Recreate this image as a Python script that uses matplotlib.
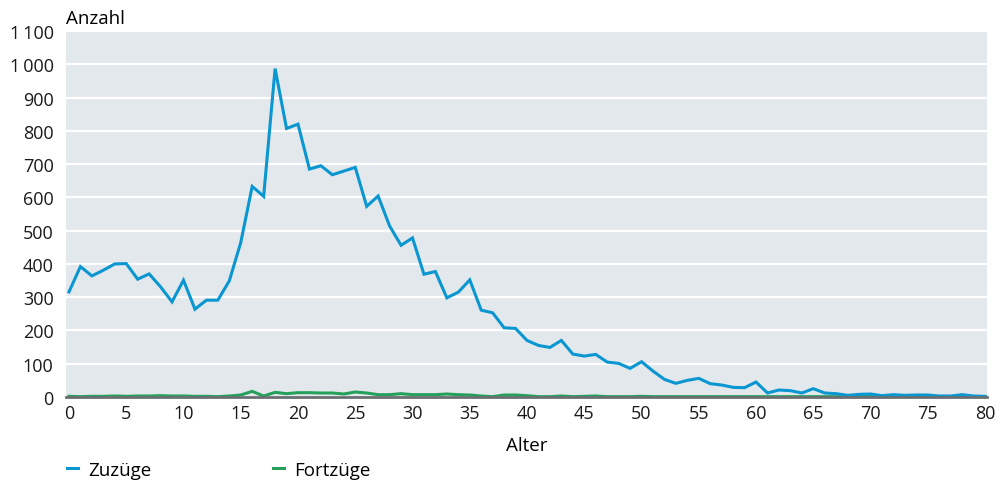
import matplotlib
matplotlib.use("Agg")
import matplotlib.pyplot as plt
from matplotlib.lines import Line2D
from matplotlib.ticker import FuncFormatter

# Alter in Jahren
ages = list(range(0, 81))

zuzuege = [
    316, 392, 364, 381, 400, 401, 354, 370, 331, 286,
    351, 264, 291, 291, 349, 464, 633, 603, 987, 807,
    820, 685, 695, 668, 679, 690, 573, 604, 514, 456,
    478, 369, 377, 298, 315, 352, 261, 253, 208, 206,
    170, 155, 149, 170, 129, 123, 128, 105, 101, 86,
    106, 78, 53, 41, 50, 56, 40, 36, 29, 28,
    45, 12, 21, 19, 12, 25, 12, 10, 5, 8,
    9, 4, 7, 5, 6, 6, 3, 3, 7, 3,
    2,
]

fortzuege = [
    2, 1, 2, 2, 3, 2, 3, 3, 4, 3,
    3, 2, 2, 1, 3, 6, 17, 3, 14, 10,
    13, 13, 12, 12, 9, 15, 12, 7, 7, 10,
    7, 7, 7, 9, 7, 6, 3, 1, 6, 6,
    4, 1, 1, 3, 1, 2, 3, 1, 1, 1,
    2, 1, 1, 1, 1, 1, 1, 1, 1, 1,
    1, 1, 1, 1, 1, 1, 1, 1, 1, 1,
    1, 1, 1, 1, 1, 1, 1, 1, 1, 1,
    1,
]

blue = "#0a96d0"
green = "#25a05a"

plt.rcParams["font.family"] = ["Open Sans", "DejaVu Sans"]
plt.rcParams["font.size"] = 13.5

fig = plt.figure(figsize=(10.06, 4.81), dpi=100)
ax = fig.add_axes([66 / 1006, 1 - 398 / 481, (987 - 66) / 1006, (398 - 32) / 481])
ax.set_facecolor("#e3e8ec")

ax.plot(ages, fortzuege, color=green, lw=2.2, solid_joinstyle="miter", zorder=3)
ax.plot(ages, zuzuege, color=blue, lw=2.2, solid_joinstyle="miter", zorder=4)

ax.set_xlim(-0.26, 80.17)
ax.set_ylim(0, 1100)
ax.set_xticks(range(0, 81, 5))
ax.set_yticks(range(0, 1101, 100))
ax.yaxis.set_major_formatter(FuncFormatter(lambda v, p: f"{int(v):,}".replace(",", "\u2009")))
ax.tick_params(axis="both", length=0, labelsize=13, colors="#1a1a1a")
ax.tick_params(axis="y", pad=9)
ax.tick_params(axis="x", pad=5)

ax.grid(axis="y", color="white", lw=1.6)
ax.set_axisbelow(True)
for s in ["top", "right", "left"]:
    ax.spines[s].set_visible(False)
ax.spines["bottom"].set_color("#6b6f72")
ax.spines["bottom"].set_linewidth(2)
ax.spines["bottom"].set_zorder(5)

ax.set_xlabel("Alter", fontsize=13.5, labelpad=10)
fig.text(66 / 1006, 1 - 19 / 481, "Anzahl", fontsize=13.5, ha="left", va="center")

handles = [
    Line2D([0], [0], color=blue, lw=2.2),
    Line2D([0], [0], color=green, lw=2.2),
]
fig.legend(handles, ["Zuzüge", "Fortzüge"], loc="center left",
           bbox_to_anchor=(50 / 1006, 1 - 471 / 481), ncol=2, frameon=False,
           handlelength=0.6, handletextpad=0.55, columnspacing=6.45, fontsize=13.5)

fig.savefig("out.png", dpi=100)
